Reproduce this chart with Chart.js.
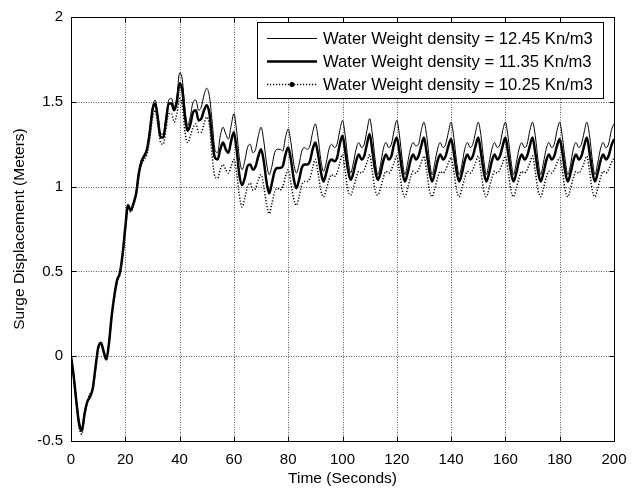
<!DOCTYPE html>
<html>
<head>
<meta charset="utf-8">
<script src="https://cdn.jsdelivr.net/npm/chart.js@4.4.1/dist/chart.umd.min.js"></script>
<style>
  html, body { margin: 0; padding: 0; background: #fff; }
  #wrap { width: 641px; height: 489px; }
</style>
</head>
<body>
<div id="wrap"><canvas id="surge-chart" width="641" height="489"></canvas></div>
<script>
// sampled once per second, t = 0 .. 200 s
const timeStart = 0;
const timeStep = 1;

const xTicks = [0, 20, 40, 60, 80, 100, 120, 140, 160, 180, 200];
const yTicks = [-0.5, 0, 0.5, 1, 1.5, 2];

const seriesLabels = [
  'Water Weight density = 12.45 Kn/m3',
  'Water Weight density = 11.35 Kn/m3',
  'Water Weight density = 10.25 Kn/m3',
];

// surge for 12.45 Kn/m3
const surgeHeavy = [
  0, -0.11, -0.26, -0.38, -0.42, -0.33, -0.27, -0.24, -0.19, -0.07,
  0.05, 0.08, 0.03, -0.01, 0.08, 0.24, 0.36, 0.45, 0.49, 0.60,
  0.76, 0.89, 0.86, 0.90, 0.97, 1.09, 1.16, 1.19, 1.23, 1.34,
  1.47, 1.51, 1.42, 1.31, 1.31, 1.41, 1.51, 1.52, 1.47, 1.53,
  1.67, 1.63, 1.45, 1.36, 1.42, 1.50, 1.51, 1.45, 1.47, 1.54,
  1.58, 1.53, 1.38, 1.22, 1.20, 1.30, 1.35, 1.31, 1.28, 1.36,
  1.43, 1.33, 1.17, 1.10, 1.15, 1.23, 1.25, 1.20, 1.22, 1.30,
  1.35, 1.27, 1.14, 1.07, 1.12, 1.20, 1.22, 1.22, 1.21, 1.29,
  1.34, 1.26, 1.14, 1.08, 1.13, 1.21, 1.23, 1.22, 1.24, 1.32,
  1.37, 1.29, 1.16, 1.09, 1.14, 1.22, 1.25, 1.23, 1.25, 1.33,
  1.39, 1.30, 1.16, 1.08, 1.14, 1.22, 1.26, 1.23, 1.25, 1.33,
  1.40, 1.31, 1.16, 1.07, 1.13, 1.22, 1.26, 1.23, 1.25, 1.33,
  1.39, 1.30, 1.16, 1.07, 1.14, 1.22, 1.26, 1.24, 1.25, 1.33,
  1.38, 1.30, 1.16, 1.07, 1.14, 1.22, 1.26, 1.23, 1.25, 1.32,
  1.38, 1.29, 1.15, 1.07, 1.13, 1.22, 1.26, 1.23, 1.25, 1.32,
  1.38, 1.30, 1.16, 1.07, 1.14, 1.22, 1.26, 1.23, 1.25, 1.33,
  1.38, 1.29, 1.16, 1.07, 1.14, 1.22, 1.26, 1.23, 1.25, 1.33,
  1.38, 1.30, 1.16, 1.07, 1.14, 1.22, 1.26, 1.23, 1.25, 1.33,
  1.38, 1.29, 1.16, 1.07, 1.13, 1.22, 1.26, 1.23, 1.25, 1.32,
  1.38, 1.30, 1.16, 1.07, 1.14, 1.22, 1.26, 1.23, 1.25, 1.33,
  1.37,
];

// surge for 11.35 Kn/m3
const surgeMedium = [
  0, -0.12, -0.27, -0.40, -0.44, -0.34, -0.27, -0.24, -0.19, -0.07,
  0.05, 0.08, 0.03, -0.02, 0.08, 0.24, 0.36, 0.45, 0.49, 0.60,
  0.76, 0.89, 0.86, 0.90, 0.96, 1.08, 1.15, 1.18, 1.22, 1.32,
  1.45, 1.49, 1.40, 1.29, 1.29, 1.39, 1.49, 1.49, 1.45, 1.50,
  1.61, 1.57, 1.41, 1.33, 1.37, 1.44, 1.45, 1.39, 1.40, 1.45,
  1.48, 1.43, 1.28, 1.17, 1.16, 1.22, 1.26, 1.22, 1.20, 1.27,
  1.32, 1.22, 1.07, 1.01, 1.05, 1.12, 1.13, 1.10, 1.12, 1.18,
  1.22, 1.15, 1.03, 0.96, 1.02, 1.09, 1.11, 1.11, 1.12, 1.19,
  1.23, 1.16, 1.05, 0.99, 1.04, 1.11, 1.13, 1.13, 1.15, 1.22,
  1.26, 1.19, 1.09, 1.03, 1.08, 1.14, 1.16, 1.15, 1.17, 1.25,
  1.30, 1.21, 1.10, 1.04, 1.08, 1.15, 1.19, 1.16, 1.18, 1.25,
  1.31, 1.21, 1.10, 1.04, 1.08, 1.15, 1.19, 1.16, 1.18, 1.25,
  1.29, 1.20, 1.09, 1.03, 1.08, 1.15, 1.19, 1.16, 1.18, 1.24,
  1.29, 1.20, 1.09, 1.03, 1.08, 1.15, 1.19, 1.16, 1.18, 1.24,
  1.28, 1.20, 1.09, 1.03, 1.08, 1.15, 1.19, 1.16, 1.18, 1.24,
  1.29, 1.20, 1.09, 1.03, 1.08, 1.15, 1.19, 1.16, 1.18, 1.24,
  1.29, 1.20, 1.09, 1.03, 1.08, 1.15, 1.19, 1.16, 1.18, 1.24,
  1.29, 1.20, 1.09, 1.03, 1.08, 1.15, 1.19, 1.16, 1.18, 1.24,
  1.28, 1.20, 1.09, 1.03, 1.08, 1.15, 1.19, 1.16, 1.18, 1.24,
  1.29, 1.20, 1.09, 1.03, 1.08, 1.15, 1.19, 1.16, 1.18, 1.24,
  1.28,
];

// surge for 10.25 Kn/m3
const surgeLight = [
  0, -0.12, -0.28, -0.42, -0.46, -0.35, -0.27, -0.22, -0.20, -0.08,
  0.04, 0.07, 0.02, -0.02, 0.07, 0.23, 0.35, 0.44, 0.48, 0.59,
  0.74, 0.88, 0.85, 0.89, 0.95, 1.06, 1.13, 1.16, 1.19, 1.28,
  1.40, 1.45, 1.36, 1.26, 1.25, 1.34, 1.43, 1.43, 1.38, 1.43,
  1.52, 1.48, 1.32, 1.26, 1.30, 1.35, 1.37, 1.32, 1.32, 1.37,
  1.41, 1.36, 1.18, 1.06, 1.05, 1.10, 1.13, 1.10, 1.08, 1.12,
  1.16, 1.08, 0.95, 0.88, 0.93, 1.00, 1.02, 0.98, 0.99, 1.04,
  1.07, 1.00, 0.90, 0.84, 0.90, 0.97, 0.99, 0.98, 1.00, 1.06,
  1.10, 1.02, 0.93, 0.89, 0.94, 1.01, 1.03, 1.03, 1.05, 1.11,
  1.16, 1.08, 0.98, 0.94, 0.98, 1.04, 1.07, 1.06, 1.08, 1.14,
  1.19, 1.09, 0.98, 0.95, 0.99, 1.05, 1.09, 1.08, 1.10, 1.14,
  1.19, 1.09, 0.98, 0.95, 0.99, 1.05, 1.09, 1.08, 1.10, 1.14,
  1.18, 1.09, 0.98, 0.94, 0.99, 1.05, 1.09, 1.08, 1.10, 1.14,
  1.18, 1.09, 0.98, 0.94, 0.99, 1.05, 1.09, 1.08, 1.10, 1.14,
  1.17, 1.09, 0.98, 0.94, 0.99, 1.05, 1.09, 1.08, 1.10, 1.14,
  1.18, 1.09, 0.98, 0.94, 0.99, 1.05, 1.09, 1.08, 1.10, 1.14,
  1.18, 1.09, 0.98, 0.94, 0.99, 1.05, 1.09, 1.08, 1.10, 1.14,
  1.18, 1.09, 0.98, 0.94, 0.99, 1.05, 1.09, 1.08, 1.10, 1.14,
  1.17, 1.09, 0.98, 0.94, 0.99, 1.05, 1.09, 1.08, 1.10, 1.14,
  1.18, 1.09, 0.98, 0.94, 0.99, 1.05, 1.09, 1.08, 1.10, 1.14,
  1.17,
];

const FONT = "'Liberation Sans', Arial, Helvetica, sans-serif";

const toPoints = (values) =>
  values.map((v, i) => ({ x: timeStart + i * timeStep, y: v }));

// dotted grid, boxed axes with inward ticks, and the legend box
const matlabAxes = {
  id: 'matlabAxes',
  beforeDatasetsDraw(chart) {
    const { ctx, chartArea: a, scales: { x, y } } = chart;
    ctx.save();
    ctx.strokeStyle = 'rgba(0,0,0,0.65)';
    ctx.lineWidth = 1;
    ctx.setLineDash([1, 1.5]);
    x.ticks.forEach((t) => {
      const px = Math.round(x.getPixelForValue(t.value)) + 0.5;
      if (px <= a.left + 1 || px >= a.right - 1) return;
      ctx.beginPath();
      ctx.moveTo(px, a.top);
      ctx.lineTo(px, a.bottom);
      ctx.stroke();
    });
    y.ticks.forEach((t) => {
      const py = Math.round(y.getPixelForValue(t.value)) + 0.5;
      if (py <= a.top + 1 || py >= a.bottom - 1) return;
      ctx.beginPath();
      ctx.moveTo(a.left, py);
      ctx.lineTo(a.right, py);
      ctx.stroke();
    });
    ctx.restore();
  },
  afterDatasetsDraw(chart) {
    const { ctx, chartArea: a, scales: { x, y } } = chart;
    const L = Math.round(a.left) + 0.5;
    const R = Math.round(a.right) + 0.5;
    const T = Math.round(a.top) + 0.5;
    const B = Math.round(a.bottom) + 0.5;
    const tick = 5;
    ctx.save();
    ctx.strokeStyle = '#000';
    ctx.lineWidth = 1;
    ctx.setLineDash([]);
    ctx.strokeRect(L, T, R - L, B - T);
    ctx.beginPath();
    x.ticks.forEach((t) => {
      const px = Math.round(x.getPixelForValue(t.value)) + 0.5;
      ctx.moveTo(px, B); ctx.lineTo(px, B - tick);
      ctx.moveTo(px, T); ctx.lineTo(px, T + tick);
    });
    y.ticks.forEach((t) => {
      const py = Math.round(y.getPixelForValue(t.value)) + 0.5;
      ctx.moveTo(L, py); ctx.lineTo(L + tick, py);
      ctx.moveTo(R, py); ctx.lineTo(R - tick, py);
    });
    ctx.stroke();

    // legend
    const box = { left: 257.5, top: 22.5, right: 603.5, bottom: 98.5 };
    const rows = [38, 61, 84];
    ctx.fillStyle = '#fff';
    ctx.fillRect(box.left, box.top, box.right - box.left, box.bottom - box.top);
    ctx.strokeRect(box.left, box.top, box.right - box.left, box.bottom - box.top);
    ctx.font = '16.6px ' + FONT;
    ctx.textBaseline = 'middle';
    ctx.textAlign = 'left';
    chart.data.datasets.forEach((ds, i) => {
      const ry = rows[i] + 0.5;
      ctx.save();
      ctx.strokeStyle = ds.borderColor;
      ctx.lineWidth = ds.borderWidth;
      ctx.setLineDash(ds.borderDash || []);
      ctx.beginPath();
      ctx.moveTo(267, ry);
      ctx.lineTo(317, ry);
      ctx.stroke();
      if (ds.legendMarker) {
        ctx.fillStyle = ds.borderColor;
        ctx.beginPath();
        ctx.arc(292, ry, 2.5, 0, Math.PI * 2);
        ctx.fill();
      }
      ctx.restore();
      ctx.fillStyle = '#000';
      ctx.fillText(ds.label, 323, rows[i] + 1);
    });
    ctx.restore();
  },
};

const ctx = document.getElementById('surge-chart').getContext('2d');

new Chart(ctx, {
  type: 'line',
  data: {
    datasets: [
      {
        label: seriesLabels[0],
        data: toPoints(surgeHeavy),
        borderColor: '#000',
        borderWidth: 1,
        order: 3,
      },
      {
        label: seriesLabels[1],
        data: toPoints(surgeMedium),
        borderColor: '#000',
        borderWidth: 2.5,
        order: 2,
      },
      {
        label: seriesLabels[2],
        data: toPoints(surgeLight),
        borderColor: '#000',
        borderWidth: 1.5,
        borderDash: [1.2, 1.8],
        legendMarker: true,
        order: 1,
      },
    ],
  },
  options: {
    responsive: false,
    animation: false,
    devicePixelRatio: 1,
    elements: {
      point: { radius: 0 },
      line: { cubicInterpolationMode: 'monotone', fill: false },
    },
    plugins: {
      legend: { display: false },
      tooltip: { enabled: false },
    },
    layout: {
      padding: { left: 0, top: 14, right: 27, bottom: 0 },
    },
    scales: {
      x: {
        type: 'linear',
        min: 0,
        max: 200,
        afterBuildTicks: (s) => { s.ticks = xTicks.map((v) => ({ value: v })); },
        afterFit: (s) => { s.height = 48; },
        grid: { display: false, drawTicks: false },
        border: { display: false },
        ticks: {
          color: '#000',
          padding: 10,
          maxRotation: 0,
          font: { family: FONT, size: 15 },
        },
        title: {
          display: true,
          text: 'Time (Seconds)',
          color: '#000',
          font: { family: FONT, size: 15.5 },
          padding: { top: 0, bottom: 1 },
        },
      },
      y: {
        type: 'linear',
        min: -0.5,
        max: 2,
        afterBuildTicks: (s) => { s.ticks = yTicks.map((v) => ({ value: v })); },
        afterFit: (s) => { s.width = 71; },
        grid: { display: false, drawTicks: false },
        border: { display: false },
        ticks: {
          color: '#000',
          padding: 8,
          font: { family: FONT, size: 15 },
          callback: (v) => String(v),
        },
        title: {
          display: true,
          text: 'Surge Displacement (Meters)',
          color: '#000',
          font: { family: FONT, size: 15.5 },
          padding: { top: 10, bottom: 0 },
        },
      },
    },
  },
  plugins: [matlabAxes],
});
</script>
</body>
</html>
